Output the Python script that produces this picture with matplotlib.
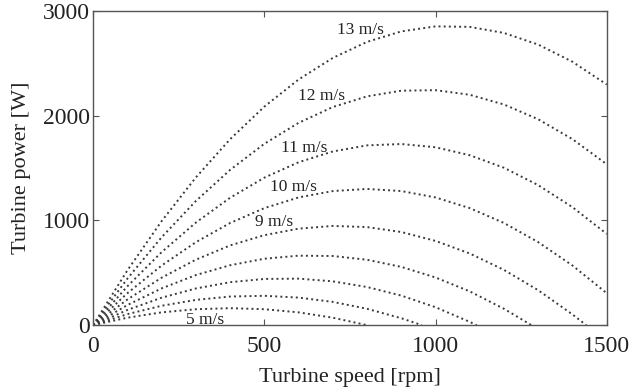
import matplotlib.pyplot as plt

# turbine speed grid [rpm]
rpm = [0, 100, 200, 300, 400, 500, 600, 700, 800, 900, 1000, 1100, 1200, 1300, 1400, 1500]

# turbine power [W] for each wind speed
wind = [5, 6, 7, 8, 9, 10, 11, 12, 13]
p5 = [0, 71, 122, 152, 162, 152, 122, 71, 0]
p6 = [0, 105, 185, 241, 273, 280, 263, 222, 156, 66]
p7 = [0, 145, 262, 350, 410, 441, 444, 418, 364, 282, 171, 31]
p8 = [0, 192, 351, 478, 572, 634, 663, 660, 624, 556, 455, 322, 156]
p9 = [0, 245, 453, 625, 761, 859, 921, 947, 936, 889, 804, 684, 527, 333, 102]
p10 = [0, 305, 569, 792, 975, 1117, 1219, 1280, 1300, 1280, 1219, 1117, 975, 792, 569, 305]
p11 = [0, 371, 697, 979, 1216, 1408, 1555, 1658, 1716, 1729, 1698, 1622, 1502, 1336, 1126, 871]
p12 = [0, 444, 839, 1185, 1482, 1731, 1931, 2082, 2184, 2238, 2243, 2199, 2106, 1965, 1775, 1536]
p13 = [0, 523, 993, 1410, 1775, 2086, 2345, 2551, 2704, 2804, 2852, 2847, 2789, 2678, 2514, 2297]
powers = [p5, p6, p7, p8, p9, p10, p11, p12, p13]

# speed where the lower curves reach zero power
zero_rpm = [800, 960, 1120, 1280, 1440, None, None, None, None]

# labels shown on the plot: (wind speed, rpm, power)
labels = [(13, 712, 2818), (12, 598, 2187), (11, 549, 1690),
          (10, 516, 1318), (9, 473, 984), (5, 271, 45)]

plt.rcParams['font.family'] = 'Liberation Serif'

fig = plt.figure(figsize=(6.38, 3.88), dpi=100)
ax = fig.add_axes([0.146, 0.162, 0.805, 0.81])

for p, z in zip(powers, zero_rpm):
    x = rpm[:len(p)]
    y = list(p)
    if z is not None and x[-1] != z:
        x = x + [z]
        y = y + [0]
    ax.plot(x, y, linestyle=':', color='#3a3a3a', linewidth=1.4)

for v, xr, yp in labels:
    ax.text(xr, yp, f'{v} m/s', fontsize=12.5, color='#222222',
            ha='left', va='center')

ax.set_xlim(0, 1500)
ax.set_ylim(0, 3000)
ax.set_xticks([0, 500, 1000, 1500])
ax.set_yticks([0, 1000, 2000, 3000])
ax.tick_params(direction='in', length=4, top=True, right=True,
               labelsize=17, colors='#555555', labelcolor='#222222')
ax.tick_params(axis='x', pad=8)
ax.tick_params(axis='y', pad=2)
for s in ax.spines.values():
    s.set_color('#555555')
    s.set_linewidth(1.0)

ax.set_xlabel('Turbine speed [rpm]', fontsize=16, color='#222222', labelpad=8)
ax.set_ylabel('Turbine power [W]', fontsize=16, color='#222222', labelpad=9)

fig.savefig('out.png', dpi=100)
